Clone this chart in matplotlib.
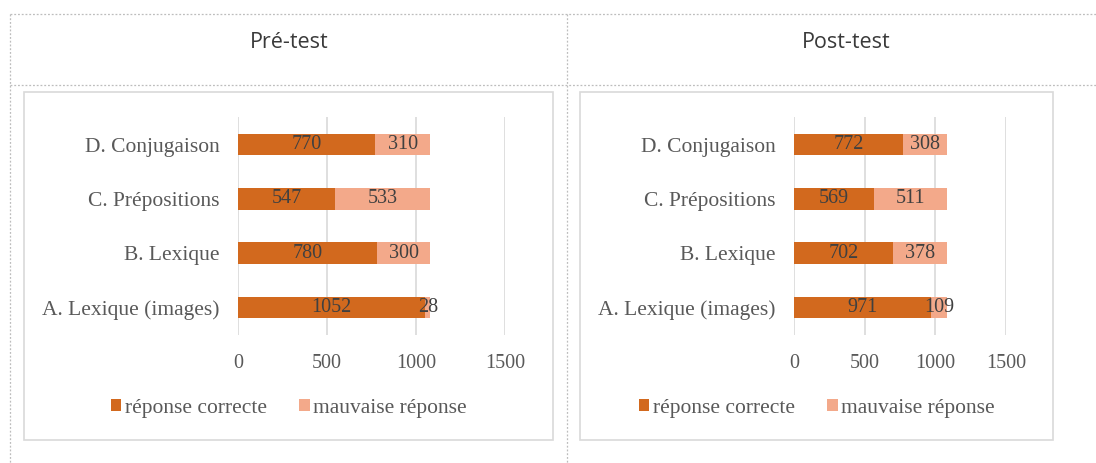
import matplotlib.pyplot as plt
from matplotlib.patches import Rectangle
from matplotlib.lines import Line2D

# Data
categories = ['A. Lexique (images)', 'B. Lexique', 'C. Prépositions', 'D. Conjugaison']
pre_correct = [1052, 780, 547, 770]
pre_wrong = [28, 300, 533, 310]
post_correct = [971, 702, 569, 772]
post_wrong = [109, 378, 511, 308]
panel_titles = ['Pré-test', 'Post-test']
legend_labels = ['réponse correcte', 'mauvaise réponse']
x_ticks = [0, 500, 1000, 1500]

DARK = '#D2691E'
LIGHT = '#F3A98A'
GRID = '#D9D9D9'
TEXT = '#595959'
LABEL = '#404040'
SERIF = ['Liberation Serif', 'DejaVu Serif']
SANS = ['Open Sans', 'DejaVu Sans']

W, H = 1096, 463
fig = plt.figure(figsize=(W / 100, H / 100), dpi=100)


def fx(px):
    return px / W


def fy(py):
    return 1 - py / H


# table-like dotted frame
dot = dict(color='#BDBDBD', lw=0.9, ls=(0, (1.5, 1.5)), transform=fig.transFigure)
fig.add_artist(Line2D([fx(10), 1], [fy(14), fy(14)], **dot))
fig.add_artist(Line2D([fx(10), 1], [fy(85), fy(85)], **dot))
fig.add_artist(Line2D([fx(10), fx(10)], [fy(14), 0], **dot))
fig.add_artist(Line2D([fx(567), fx(567)], [fy(14), 0], **dot))

# chart boxes
boxes = [(24, 553), (580, 1053)]
for x0, x1 in boxes:
    fig.add_artist(Rectangle((fx(x0), fy(440)), fx(x1 - x0), fy(92) - fy(440),
                             transform=fig.transFigure, fill=False,
                             edgecolor=GRID, lw=1.2))

# header titles
for title, cx in zip(panel_titles, [289, 846]):
    fig.text(fx(cx), fy(42), title, ha='center', va='center',
             fontsize=15.5, color='#3A3A3A', family=SANS)


def draw_panel(left_px, right_px, correct, wrong, box):
    ax = fig.add_axes([fx(left_px), fy(334.6), fx(right_px - left_px), fy(117.4) - fy(334.6)])
    y = range(len(categories))
    b1 = ax.barh(y, correct, height=0.4, color=DARK)
    b2 = ax.barh(y, wrong, left=correct, height=0.4, color=LIGHT)
    ax.bar_label(b1, label_type='center', fontsize=14.5, color=LABEL, family=SERIF)
    ax.bar_label(b2, label_type='center', fontsize=14.5, color=LABEL, family=SERIF)
    ax.set_xlim(0, 1500)
    ax.set_ylim(-0.5, len(categories) - 0.5)
    ax.set_xticks(x_ticks)
    ax.set_yticks(list(y))
    ax.set_yticklabels(categories)
    ax.grid(axis='x', color=GRID, lw=1.2)
    ax.set_axisbelow(True)
    for s in ax.spines.values():
        s.set_visible(False)
    ax.tick_params(axis='both', length=0, labelcolor=TEXT)
    ax.tick_params(axis='x', pad=14, labelsize=14.5)
    ax.tick_params(axis='y', pad=13, labelsize=15.5)
    for lab in ax.get_xticklabels() + ax.get_yticklabels():
        lab.set_family(SERIF)
    cx = (box[0] + box[1]) / 2
    fig.legend([b1, b2], legend_labels, loc='center', bbox_to_anchor=(fx(cx), fy(408)),
               ncol=2, frameon=False, handlelength=0.5, handleheight=0.5,
               handletextpad=0.15, columnspacing=1.5,
               prop={'family': SERIF, 'size': 15.5}, labelcolor=TEXT)
    return ax


draw_panel(238, 505, pre_correct, pre_wrong, boxes[0])
draw_panel(794, 1006, post_correct, post_wrong, boxes[1])

fig.savefig('out.png', dpi=100)
